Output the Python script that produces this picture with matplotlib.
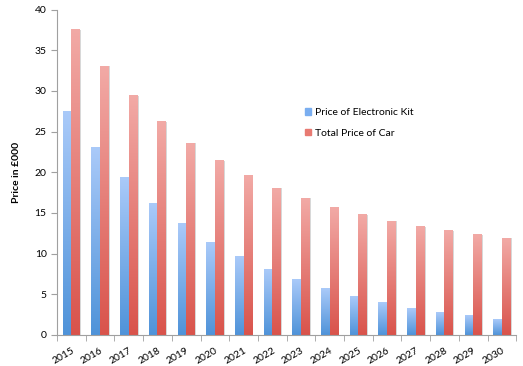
import numpy as np
import matplotlib
matplotlib.use("Agg")
import matplotlib.pyplot as plt
from matplotlib.colors import LinearSegmentedColormap
from matplotlib.patches import Patch

plt.rcParams['font.family'] = ['Lato', 'DejaVu Sans']

# data
years = [str(y) for y in range(2015, 2031)]
kit_price = [27.5, 23.1, 19.35, 16.2, 13.65, 11.4, 9.6, 8.1, 6.8, 5.7, 4.75, 3.95, 3.3, 2.8, 2.35, 1.9]
car_price = [37.5, 33.0, 29.4, 26.2, 23.6, 21.4, 19.6, 18.0, 16.8, 15.7, 14.8, 14.0, 13.3, 12.8, 12.3, 11.9]

fig = plt.figure(figsize=(5.23, 3.66), dpi=100)
ax = fig.add_axes([0.109, 0.085, 0.878, 0.889])

x = np.arange(len(years))
w = 0.3
blue_bars = ax.bar(x - w / 2, kit_price, w, color='#7aaef0', label='Price of Electronic Kit')
red_bars = ax.bar(x + w / 2, car_price, w, color='#e87a72', label='Total Price of Car')

# vertical gradient fill like the excel bars
blue_cm = LinearSegmentedColormap.from_list('b', ['#4f93d9', '#aacaf9'])
red_cm = LinearSegmentedColormap.from_list('r', ['#d9534b', '#f2aaa6'])
grad = np.linspace(0, 1, 256).reshape(-1, 1)
for bars, cm in [(blue_bars, blue_cm), (red_bars, red_cm)]:
    for p in bars:
        x0, y0 = p.get_x(), p.get_y()
        ww, hh = p.get_width(), p.get_height()
        # soft shadow on the right
        ax.add_patch(plt.Rectangle((x0 + ww, 0), 0.04, hh, color='#d8d8d8', lw=0, zorder=1))
        ax.imshow(grad, extent=[x0, x0 + ww, y0, y0 + hh], origin='lower',
                  aspect='auto', cmap=cm, zorder=2)
        p.set_visible(False)

ax.set_xlim(-0.5, len(years) - 0.5)
ax.set_ylim(0, 40)
ax.set_yticks(range(0, 41, 5))

ax.set_xticks(x)
ax.set_xticklabels(years, rotation=30, fontsize=7.5, ha='right', rotation_mode='anchor')
ax.set_xticks(np.arange(-0.5, len(years), 1), minor=True)
ax.tick_params(axis='x', which='major', length=0, pad=8)
ax.tick_params(axis='x', which='minor', length=4, color='#a0a0a0')
ax.tick_params(axis='y', length=4, color='#a0a0a0', labelsize=7.5)

for s in ['top', 'right']:
    ax.spines[s].set_visible(False)
for s in ['left', 'bottom']:
    ax.spines[s].set_color('#a0a0a0')

ax.set_ylabel('Price in £000', fontsize=7.5, fontweight='bold', labelpad=10)

handles = [Patch(color='#7aaef0'), Patch(color='#e87a72')]
ax.legend(handles, ['Price of Electronic Kit', 'Total Price of Car'],
          loc='upper left', bbox_to_anchor=(0.52, 0.725), frameon=False,
          fontsize=7.5, handlelength=0.6, handleheight=0.6, handletextpad=0.3,
          labelspacing=1.1)

fig.savefig('out.png', dpi=100)
